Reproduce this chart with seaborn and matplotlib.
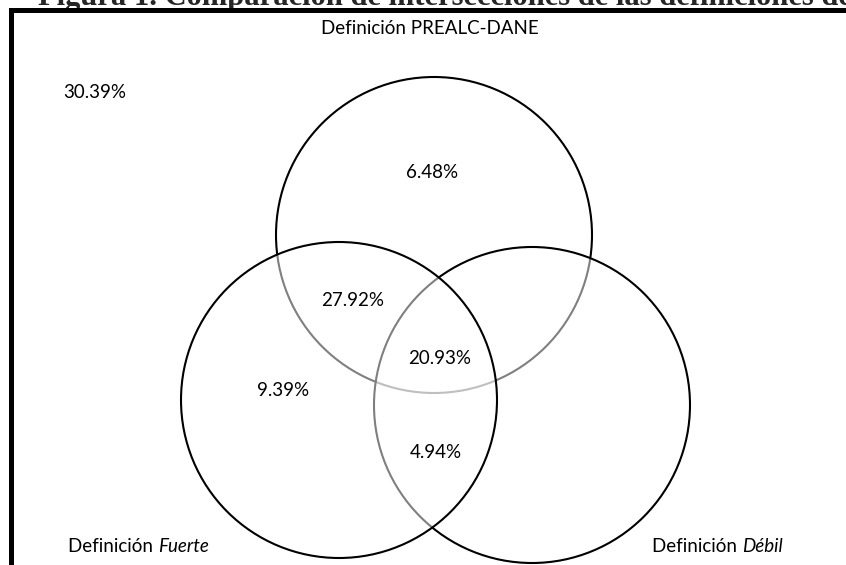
import matplotlib.pyplot as plt
import seaborn as sns
from matplotlib.patches import Circle

set_names = ["Definición PREALC-DANE", "Definición Fuerte", "Definición Débil"]
set_prefix = ["Definición ", "Definición ", "Definición "]
set_suffix = ["PREALC-DANE", "Fuerte", "Débil"]
suffix_italic = [False, True, True]

region_names = ["solo PREALC-DANE", "PREALC-DANE y Fuerte", "las tres",
                "solo Fuerte", "Fuerte y Débil", "ninguna"]
region_values = [6.48, 27.92, 20.93, 9.39, 4.94, 30.39]

title = "Figura 1. Comparación de intersecciones de las definiciones de informalidad"

# Layout (pixel coordinates of the 846x565 canvas)
W, H = 846, 565
circle_centers = [(434, 235), (532, 405), (339, 400)]  # drawing order: PREALC, Débil, Fuerte
radius = 158
region_pos = [(432, 173), (353, 300), (440, 359), (283, 390), (436, 452), (95, 92)]
set_label_pos = [(430, 29, "center"), (68, 547, "left"), (652, 547, "left")]
fs = 13.5

sns.set_style("white")
plt.rcParams["font.family"] = ["Lato", "DejaVu Sans"]

fig = plt.figure(figsize=(W / 100, H / 100), dpi=100)
left_px, top_px = 10.5, 9.5
ax = fig.add_axes([left_px / W, 0, (W - left_px) / W, (H - top_px) / H])
ax.set_xlim(left_px, W)
ax.set_ylim(H, top_px)
ax.set_xticks([])
ax.set_yticks([])
for side in ["right", "bottom"]:
    ax.spines[side].set_visible(False)
for side in ["left", "top"]:
    ax.spines[side].set_linewidth(3.6)
    ax.spines[side].set_color("black")
    ax.spines[side].set_zorder(10)

# circles: semi-transparent white fills fade the lines drawn beneath
for i, (cx, cy) in enumerate(circle_centers):
    ax.add_patch(Circle((cx, cy), radius, facecolor=(1, 1, 1, 0.5),
                        edgecolor="black", linewidth=1.5, zorder=1 + i))

for (x, y), v in zip(region_pos, region_values):
    ax.text(x, y, f"{v:.2f}%", ha="center", va="center", fontsize=fs,
            color="black", zorder=6)

for (x, y, ha), pre, suf, it in zip(set_label_pos, set_prefix, set_suffix, suffix_italic):
    if not it:
        ax.text(x, y, pre + suf, ha=ha, va="center", fontsize=fs,
                color="black", zorder=6)
        continue
    t = ax.text(x, y, pre, ha=ha, va="center", fontsize=fs,
                color="black", zorder=6)
    ax.annotate(suf, xy=(1, 0.5), xycoords=t, ha="left", va="center",
                fontsize=fs, style="italic", color="black", zorder=6)

# title is cropped at the top edge in the reference: only its lowest pixels show,
# descenders pass under the frame line
fig.text(38 / W, 1 - 4.5 / H, title, ha="left", va="baseline", fontsize=22,
         fontweight="bold", family=["Liberation Serif", "DejaVu Serif"], zorder=-1)

fig.savefig("out.png", dpi=100)
